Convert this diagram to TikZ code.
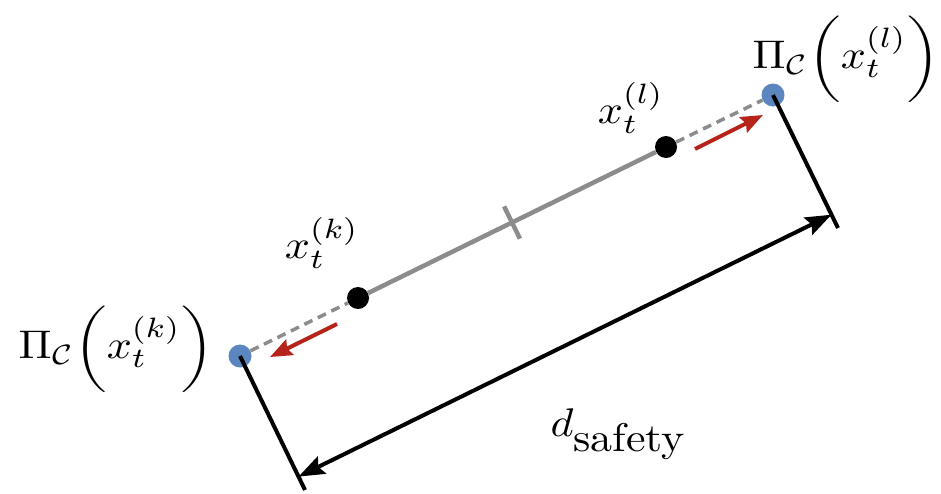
\documentclass[tikz,border=0pt]{standalone}
\usepackage{amsmath}
\usepackage{graphicx}
\usetikzlibrary{arrows.meta,calc}
\definecolor{ptblue}{HTML}{5B86C0}
\definecolor{arrred}{HTML}{B5231A}
\definecolor{lgrey}{HTML}{8C8C8C}
\newcommand{\biglbl}[1]{\scalebox{4.4}[4.0]{#1}}
\newcommand{\mylp}{\mathopen{\scalebox{1}[0.9]{$\biggl($}}}
\newcommand{\myrp}{\mathclose{\scalebox{1}[0.9]{$\biggr)$}}}
\tikzset{
  bluedot/.style={circle,fill=ptblue,inner sep=0pt,minimum size=23pt},
  blackdot/.style={circle,fill=black,inner sep=0pt,minimum size=22pt},
  seg/.style={draw=lgrey,line width=4.5pt},
  dseg/.style={draw=lgrey,line width=3.5pt,dash pattern=on 9pt off 6pt},
  redarrow/.style={draw=arrred,line width=4pt,-{Stealth[length=22pt,width=17pt,inset=3pt]}},
  bound/.style={draw=black,line width=4pt},
  dimarrow/.style={draw=black,line width=4pt,{Stealth[length=26pt,width=19pt,inset=4pt]}-{Stealth[length=26pt,width=19pt,inset=4pt]}},
  lbl/.style={inner sep=0pt}
}
\begin{document}
\begin{tikzpicture}[x=1pt,y=-1pt]
\useasboundingbox (0,0) rectangle (941,493);
% points
\node[bluedot] (pk) at (240,356) {};
\node[bluedot] (pl) at (773,95) {};
\node[blackdot] (xk) at (358,298) {};
\node[blackdot] (xl) at (666,147) {};
% segments
\draw[seg] (xk) -- (xl);
\draw[dseg] (pk) -- (xk);
\draw[dseg] (xl) -- (pl);
% tick at midpoint
\coordinate (mid) at ($(xk)!0.5!(xl)$);
\coordinate (t1) at ($(mid)!18pt!90:(xl)$);
\coordinate (t2) at ($(mid)!18pt!-90:(xl)$);
\draw[seg] (t1) -- (t2);
% red arrows
\coordinate (ra1) at (337,324);
\coordinate (ra2) at (270,357);
\coordinate (rb1) at (695,149);
\coordinate (rb2) at (763,115);
\draw[redarrow] (ra1) -- (ra2);
\draw[redarrow] (rb1) -- (rb2);
% boundary lines
\coordinate (bk) at (305,490);
\coordinate (bl) at (838,228);
\draw[bound] (pk.center) -- (bk);
\draw[bound] (pl.center) -- (bl);
% dimension arrow
\coordinate (dk) at ($(pk.center)!0.9!(bk)$);
\coordinate (dl) at ($(pl.center)!0.9!(bl)$);
\draw[dimarrow] (dk) -- (dl);
% labels
\node[lbl] (Lpk) at (116,349) {\biglbl{$\Pi_{\mathcal{C}}\mylp x_t^{(k)}\myrp$}};
\node[lbl] (Lpl) at (846,59) {\biglbl{$\Pi_{\mathcal{C}}\mylp x_t^{(l)}\myrp$}};
\node[lbl] (Lxk) at (322,243) {\biglbl{$x_t^{(k)}$}};
\node[lbl] (Lxl) at (631,108) {\biglbl{$x_t^{(l)}$}};
\node[lbl] (Ld) at (619,434) {\biglbl{$d_{\text{\normalsize safety}}$}};
\end{tikzpicture}
\end{document}
